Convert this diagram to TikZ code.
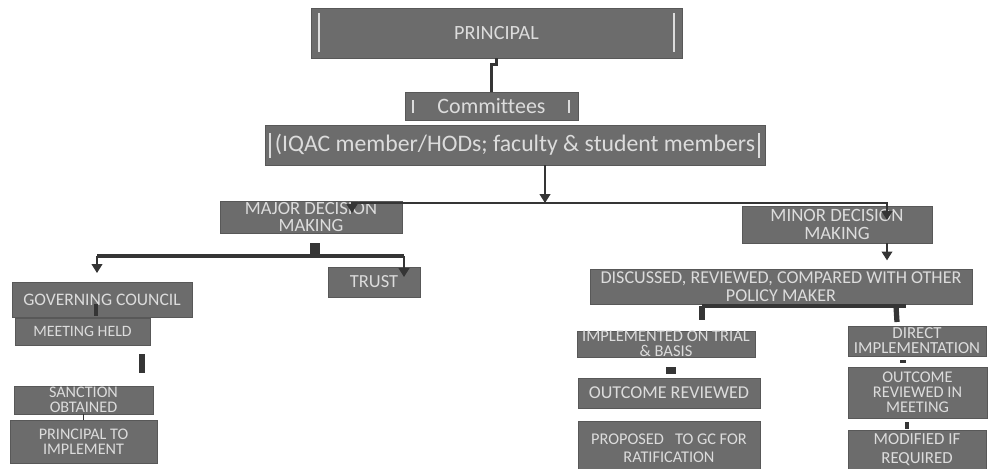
\documentclass[tikz,border=0pt]{standalone}
\usepackage{fontspec}
\setmainfont{Carlito}[Ligatures=NoCommon]
\usetikzlibrary{arrows.meta}
\definecolor{boxfill}{HTML}{6C6C6C}
\definecolor{boxline}{HTML}{585858}
\definecolor{boxtext}{HTML}{DCDCDC}
\definecolor{linkdark}{HTML}{353535}
\newcommand*{\GrayBox}[8]{% #1 = name, #2/#3 = font size/baselineskip, #4/#5 = top left, #6/#7 = bottom right, #8 = text
\node [graybox, font={\fontsize{#2}{#3}\selectfont},
minimum width={(#6-#4)*0.02cm}, minimum height={(#7-#5)*0.02cm}]
(#1) at ({(#4+#6)/2},{(#5+#7)/2}) {#8};
}

\begin{document}
\begin{tikzpicture}[x=0.02cm, y=-0.02cm,
    graybox/.style={draw=boxline, fill=boxfill, text=boxtext, align=center, inner sep=0pt},
    link/.style={draw=linkdark, line width=1pt},
    arrow/.style={link, -{Triangle[width=6pt,length=5pt]}},
    bar/.style={draw=linkdark, line width=2.5pt},
    stub/.style={draw=linkdark, line width=#1},
    stub/.default=3pt,
    glint/.style={draw=boxtext, line width=1.1pt}]

    \useasboundingbox (0,0) rectangle (992,468);

    % top of the chart
    \GrayBox{principal}{11.5}{12}{311}{8}{682}{58}{PRINCIPAL}
    \GrayBox{committees}{12.5}{13}{405}{92}{578}{120}{Committees}
    \GrayBox{iqac}{13.5}{14}{265}{125}{765}{165}{(IQAC member/HODs; faculty \& student members}
    \draw[glint] (319,13) -- (319,52);
    \draw[glint] (674,13) -- (674,52);
    \draw[glint] (413,100) -- (413,113);
    \draw[glint] (569,100) -- (569,113);
    \draw[glint] (270,133) -- (270,158);
    \draw[glint] (759,133) -- (759,158);

    % major decisions
    \GrayBox{major}{10.6}{9.8}{220}{201}{402}{233}{MAJOR DECISION\\MAKING}
    \GrayBox{trust}{10.5}{11}{328}{267}{420}{297}{TRUST}
    \GrayBox{gc}{10}{11}{12}{282}{192}{317}{GOVERNING COUNCIL}
    \GrayBox{meeting}{9}{10}{15}{318}{150}{345}{MEETING HELD}
    \GrayBox{sanction}{9.2}{8.6}{14}{386}{153}{414}{SANCTION\\OBTAINED}
    \GrayBox{prinimpl}{9.2}{8.8}{10}{420}{157}{463}{PRINCIPAL TO\\IMPLEMENT}

    % minor decisions
    \GrayBox{minor}{10.7}{10}{742}{206}{932}{243}{MINOR DECISION\\MAKING}
    \GrayBox{discussed}{10.3}{10.3}{590}{269}{972}{304}{DISCUSSED, REVIEWED, COMPARED WITH OTHER\\POLICY MAKER}
    \GrayBox{trial}{9.4}{8.4}{577}{331}{755}{357}{IMPLEMENTED ON TRIAL\\\& BASIS}
    \GrayBox{outcome}{10.3}{11}{578}{378}{760}{408}{OUTCOME REVIEWED}
    \GrayBox{proposed}{9.3}{10.5}{578}{421}{760}{476}{PROPOSED~~ TO GC FOR\\RATIFICATION}
    \GrayBox{direct}{9.6}{8.6}{848}{326}{986}{356}{DIRECT\\IMPLEMENTATION}
    \GrayBox{meetingrev}{9.3}{8.6}{848}{367}{987}{418}{OUTCOME\\REVIEWED IN\\MEETING}
    \GrayBox{modified}{9.6}{10.8}{848}{430}{986}{470}{MODIFIED IF\\REQUIRED}

    % connectors
    \draw[link, line width=1.3pt] (principal.south) -- ++(0,6) -| (committees.north);
    \coordinate (split) at (545,203);
    \coordinate (majortip) at (352,213);
    \coordinate (minortip) at (887,220);
    \draw[arrow] (iqac.south -| split) -- (split);
    \draw[arrow] (split) -| (majortip);
    \draw[arrow] (split) -| (minortip);

    \coordinate (majorfork) at (315,256);
    \coordinate (gcfork) at (97,256);
    \coordinate (trustfork) at (404,256);
    \draw[stub=5.5pt] (majorfork) -- ++(0,-13);
    \draw[bar] (gcfork) -- (trustfork);
    \draw[arrow] (gcfork) -- ++(0,17);
    \draw[arrow] (trustfork) -- ++(0,21);
    \draw[stub=2.5pt] (96,304) -- (96,316);
    \draw[stub] (142,354) -- (142,373);
    \draw[link, line width=0.6pt] (sanction.south) -- (prinimpl.north);

    \draw[arrow] (minor.south -| minortip) -- ++(0,17);
    \coordinate (trialfork) at (702,306);
    \coordinate (directfork) at (906,306);
    \draw[bar] (trialfork) -- (directfork);
    \draw[stub=3.5pt] (trialfork) -- ++(0,14);
    \draw[stub] (896,306) -- (897,322);
    \draw[stub=5.5pt] (671,367) -- (671,374);
    \draw[stub] (903,360) -- (903,363);
    \draw[stub=2.5pt] (907,422) -- (907,429);

\end{tikzpicture}
\end{document}
